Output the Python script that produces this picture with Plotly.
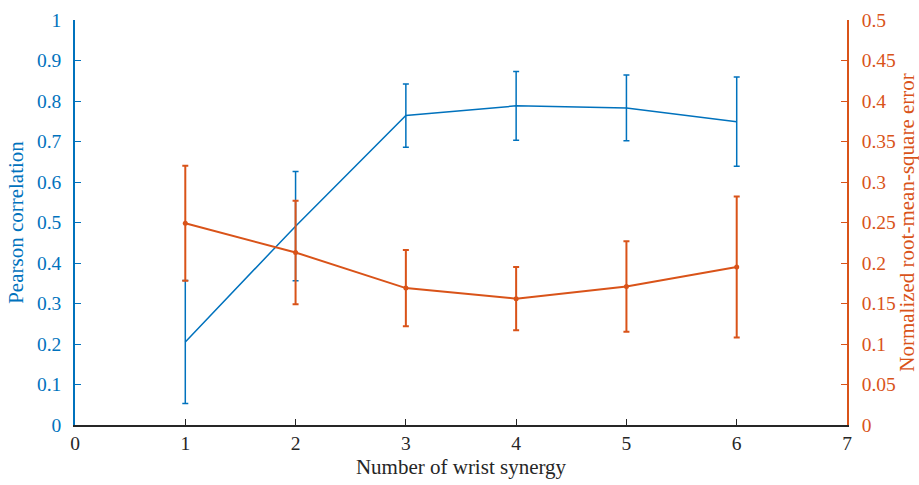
import plotly.graph_objects as go

synergy = [1, 2, 3, 4, 5, 6]
pearson = [0.205, 0.491, 0.764, 0.788, 0.783, 0.749]
pearson_err = [0.152, 0.135, 0.078, 0.085, 0.081, 0.11]
nrmse = [0.249, 0.213, 0.169, 0.156, 0.171, 0.195]
nrmse_err = [0.071, 0.064, 0.047, 0.039, 0.056, 0.087]

BLUE = "#0072BD"
ORANGE = "#D95319"
DARK = "#262626"
FONT = "Liberation Serif"
TICK = 19.5
TITLE = 21

fig = go.Figure()
fig.add_trace(go.Scatter(
    x=synergy, y=pearson, mode="lines", yaxis="y",
    line=dict(color=BLUE, width=1.5),
    error_y=dict(type="data", array=pearson_err, color=BLUE, thickness=1.5, width=3),
    showlegend=False))
fig.add_trace(go.Scatter(
    x=synergy, y=nrmse, mode="lines+markers", yaxis="y2",
    line=dict(color=ORANGE, width=2),
    marker=dict(color=ORANGE, size=5),
    error_y=dict(type="data", array=nrmse_err, color=ORANGE, thickness=2, width=3),
    showlegend=False))

fig.update_layout(
    width=919, height=485,
    margin=dict(l=75, r=72, t=20, b=60),
    paper_bgcolor="white", plot_bgcolor="white",
    font=dict(family=FONT, size=TICK, color=DARK),
    xaxis=dict(range=[0, 7], dtick=1, tick0=0, ticks="inside", ticklen=6,
               tickcolor=DARK, showline=True, linecolor=DARK, linewidth=1.5,
               showgrid=False, zeroline=False, automargin=False,
               title=dict(text="Number of wrist synergy", standoff=6,
                          font=dict(family=FONT, size=TITLE, color=DARK)),
               tickfont=dict(family=FONT, size=TICK, color=DARK)),
    yaxis=dict(range=[0, 1], dtick=0.1, tick0=0, ticks="inside", ticklen=6,
               tickcolor=BLUE, showline=True, linecolor=BLUE, linewidth=1.5,
               showgrid=False, zeroline=False, ticklabelstandoff=8, automargin=False,
               tickfont=dict(family=FONT, size=TICK, color=BLUE),
               title=dict(text="Pearson correlation", standoff=8,
                          font=dict(family=FONT, size=TITLE, color=BLUE))),
    yaxis2=dict(range=[0, 0.5], dtick=0.05, tick0=0, ticks="inside", ticklen=6,
                tickcolor=ORANGE, showline=True, linecolor=ORANGE, linewidth=1.5,
                showgrid=False, zeroline=False, overlaying="y", side="right",
                ticklabelstandoff=9, automargin=False,
                tickfont=dict(family=FONT, size=TICK, color=ORANGE),
                title=dict(text="Normalized root-mean-square error", standoff=4,
                           font=dict(family=FONT, size=TITLE, color=ORANGE))),
)

fig.write_html("out.html")
